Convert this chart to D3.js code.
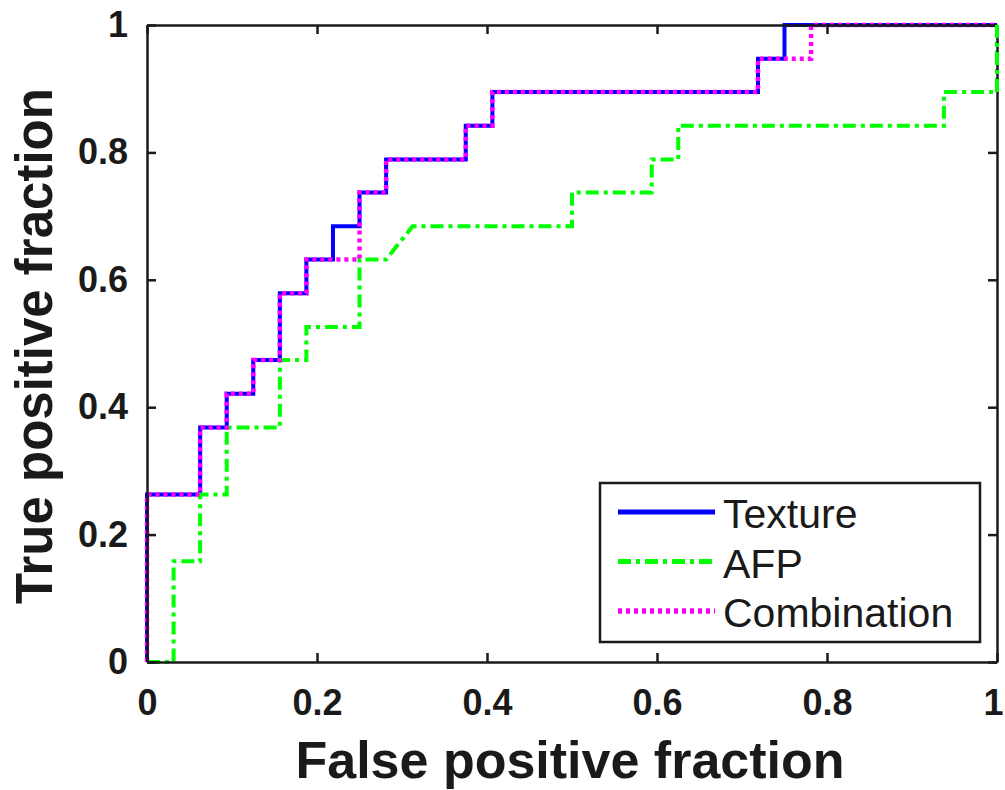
<!DOCTYPE html>
<html>
<head>
<meta charset="utf-8">
<script src="https://cdn.jsdelivr.net/npm/d3@7"></script>
<style>
  html, body { margin: 0; padding: 0; background: #fff; }
  svg { display: block; }
</style>
</head>
<body>
<svg id="chart" width="1005" height="790"></svg>
<script>
// ---- data ----
const tickValues = [0, 0.2, 0.4, 0.6, 0.8, 1];
const tickLabels = ["0", "0.2", "0.4", "0.6", "0.8", "1"];

const textureFPR = [0, 0, 0.0625, 0.0625, 0.0938, 0.0938, 0.125, 0.125, 0.1563, 0.1563, 0.1875, 0.1875, 0.2188, 0.2188, 0.25, 0.25, 0.2813, 0.2813, 0.375, 0.375, 0.4063, 0.4063, 0.7188, 0.7188, 0.75, 0.75, 1];
const textureTPR = [0, 0.263, 0.263, 0.368, 0.368, 0.421, 0.421, 0.474, 0.474, 0.579, 0.579, 0.632, 0.632, 0.684, 0.684, 0.737, 0.737, 0.789, 0.789, 0.842, 0.842, 0.895, 0.895, 0.947, 0.947, 1, 1];

const afpFPR = [0, 0.0313, 0.0313, 0.0625, 0.0625, 0.0938, 0.0938, 0.1563, 0.1563, 0.1875, 0.1875, 0.25, 0.25, 0.2813, 0.3125, 0.5, 0.5, 0.5938, 0.5938, 0.625, 0.625, 0.9375, 0.9375, 1, 1];
const afpTPR = [0, 0, 0.158, 0.158, 0.263, 0.263, 0.368, 0.368, 0.474, 0.474, 0.526, 0.526, 0.632, 0.632, 0.684, 0.684, 0.737, 0.737, 0.789, 0.789, 0.842, 0.842, 0.895, 0.895, 1];

const comboFPR = [0, 0, 0.0625, 0.0625, 0.0938, 0.0938, 0.125, 0.125, 0.1563, 0.1563, 0.1875, 0.1875, 0.25, 0.25, 0.2813, 0.2813, 0.375, 0.375, 0.4063, 0.4063, 0.7188, 0.7188, 0.7813, 0.7813, 1];
const comboTPR = [0, 0.263, 0.263, 0.368, 0.368, 0.421, 0.421, 0.474, 0.474, 0.579, 0.579, 0.632, 0.632, 0.737, 0.737, 0.789, 0.789, 0.842, 0.842, 0.895, 0.895, 0.947, 0.947, 1, 1];

const seriesNames = ["Texture", "AFP", "Combination"];
const xLabel = "False positive fraction";
const yLabel = "True positive fraction";

// ---- layout ----
const svg = d3.select("#chart");
const L = 147, R = 997, T = 25, B = 662;
const x = d3.scaleLinear().domain([0, 1]).range([L, R]);
const y = d3.scaleLinear().domain([0, 1]).range([B, T]);
const ink = "#1a1a1a";
const font = "'Liberation Sans', Arial, sans-serif";

const series = [
  { name: seriesNames[0], fpr: textureFPR, tpr: textureTPR, color: "#0000ff", dash: null, width: 4 },
  { name: seriesNames[1], fpr: afpFPR, tpr: afpTPR, color: "#00ff00", dash: "13,5,4,5", width: 4 },
  { name: seriesNames[2], fpr: comboFPR, tpr: comboTPR, color: "#ff00ff", dash: "4,4", width: 4.5 }
];

const line = d3.line().x(d => x(d[0])).y(d => y(d[1]));

// lines
series.forEach(s => {
  const pts = s.fpr.map((v, i) => [v, s.tpr[i]]);
  svg.append("path")
    .datum(pts)
    .attr("d", line)
    .attr("fill", "none")
    .attr("stroke", s.color)
    .attr("stroke-width", s.width)
    .attr("stroke-linecap", "butt")
    .attr("stroke-linejoin", "miter")
    .attr("stroke-dasharray", s.dash);
});

// axes
const fmt = (d) => tickLabels[tickValues.indexOf(d)];
function styleAxis(g, showLabels) {
  g.selectAll(".domain").attr("stroke", ink).attr("stroke-width", 2.5);
  g.selectAll(".tick line").attr("stroke", ink).attr("stroke-width", 2.5);
  g.selectAll(".tick text")
    .attr("fill", ink)
    .style("font-family", font)
    .style("font-weight", "bold")
    .style("font-size", "36px");
  if (!showLabels) g.selectAll(".tick text").remove();
}

svg.append("g").attr("transform", `translate(0,${B})`)
  .call(d3.axisBottom(x).tickValues(tickValues).tickFormat(fmt).tickSize(-9).tickSizeOuter(0).tickPadding(27))
  .call(g => styleAxis(g, true))
  .call(g => g.selectAll(".tick text").filter(d => d === 1).attr("dx", -4));
svg.append("g").attr("transform", `translate(${L},0)`)
  .call(d3.axisLeft(y).tickValues(tickValues).tickFormat(fmt).tickSize(-9).tickSizeOuter(0).tickPadding(19))
  .call(g => styleAxis(g, true));
svg.append("g").attr("transform", `translate(0,${T})`)
  .call(d3.axisTop(x).tickValues(tickValues).tickFormat(fmt).tickSize(-9).tickSizeOuter(0))
  .call(g => styleAxis(g, false));
svg.append("g").attr("transform", `translate(${R},0)`)
  .call(d3.axisRight(y).tickValues(tickValues).tickFormat(fmt).tickSize(-9).tickSizeOuter(0))
  .call(g => styleAxis(g, false));

// AFP's final vertical drawn on top of the right border (as in reference)
{
  const s = series[1];
  const n = s.fpr.length;
  svg.append("path")
    .datum([[s.fpr[n - 2], s.tpr[n - 2]], [s.fpr[n - 1], s.tpr[n - 1]]])
    .attr("d", line)
    .attr("fill", "none")
    .attr("stroke", s.color)
    .attr("stroke-width", s.width)
    .attr("stroke-dasharray", s.dash);
}

// axis labels
svg.append("text")
  .attr("x", (L + R) / 2 - 2).attr("y", 778)
  .attr("text-anchor", "middle")
  .attr("fill", ink)
  .style("font-family", font).style("font-weight", "bold").style("font-size", "52px")
  .text(xLabel);
svg.append("text")
  .attr("transform", `translate(52,346) rotate(-90)`)
  .attr("text-anchor", "middle")
  .attr("fill", ink)
  .style("font-family", font).style("font-weight", "bold").style("font-size", "51px")
  .text(yLabel);

// legend
const lg = svg.append("g");
lg.append("rect")
  .attr("x", 600).attr("y", 483).attr("width", 380).attr("height", 159)
  .attr("fill", "#fff").attr("stroke", ink).attr("stroke-width", 2.5);
series.forEach((s, i) => {
  const base = 528 + i * 49.5;
  lg.append("line")
    .attr("x1", 618).attr("x2", 715)
    .attr("y1", base - 16).attr("y2", base - 16)
    .attr("stroke", s.color).attr("stroke-width", s.width + 1)
    .attr("stroke-dasharray", s.dash);
  lg.append("text")
    .attr("x", 723).attr("y", base)
    .attr("fill", ink)
    .style("font-family", font).style("font-size", "41px")
    .text(s.name);
});
</script>
</body>
</html>
